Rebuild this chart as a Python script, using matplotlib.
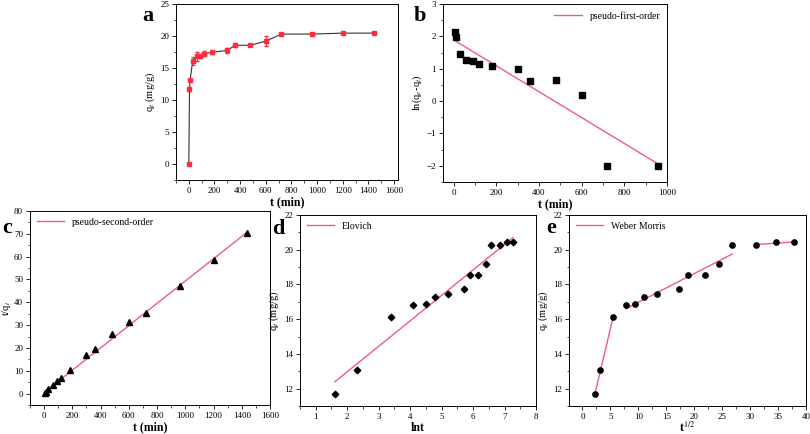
import numpy as np
import matplotlib
matplotlib.use("Agg")
import matplotlib.pyplot as plt
from matplotlib.ticker import MultipleLocator

plt.rcParams['font.family'] = ['Liberation Serif', 'DejaVu Serif']
plt.rcParams['mathtext.fontset'] = 'stix'

# data
t_min = [0, 5, 10, 30, 60, 90, 120, 180, 300, 360, 480, 600, 720, 960, 1200, 1440]
qt = [0, 11.7, 13.1, 16.1, 16.8, 16.9, 17.25, 17.45, 17.75, 18.55, 18.55, 19.2, 20.3, 20.3, 20.45, 20.45]
qt_err = [0, 0.3, 0.2, 0.6, 0.7, 0.3, 0.35, 0.2, 0.45, 0.2, 0.15, 0.75, 0.15, 0.1, 0.1, 0.1]

b_t = [5, 10, 30, 60, 90, 120, 180, 300, 360, 480, 600, 720, 960]
b_ln = [2.15, 1.98, 1.45, 1.28, 1.25, 1.15, 1.08, 0.98, 0.62, 0.64, 0.18, -2.0, -2.0]
b_fit_t = [10, 960]
b_fit_y = [1.85, -1.95]

c_t = [5, 10, 30, 60, 90, 120, 180, 300, 360, 480, 600, 720, 960, 1200, 1440]
c_tq = [0.43, 0.76, 1.86, 3.57, 5.3, 6.96, 10.3, 16.9, 19.4, 25.9, 31.25, 35.5, 47.3, 58.7, 70.4]
c_fit_t = [0, 1440]
c_fit_y = [0.5, 70.8]

d_lnt = [1.61, 2.30, 3.40, 4.09, 4.50, 4.79, 5.19, 5.70, 5.89, 6.17, 6.40, 6.58, 6.87, 7.09, 7.27]
d_q = [11.7, 13.1, 16.1, 16.8, 16.9, 17.25, 17.45, 17.75, 18.55, 18.55, 19.2, 20.3, 20.3, 20.45, 20.45]
d_fit_x = [1.61, 7.27]
d_fit_y = [12.4, 20.7]

e_sqrt = [2.24, 3.16, 5.48, 7.75, 9.49, 10.95, 13.42, 17.32, 18.97, 21.9, 24.5, 26.8, 31.0, 34.6, 37.9]
e_q = [11.7, 13.1, 16.1, 16.8, 16.9, 17.25, 17.45, 17.75, 18.55, 18.55, 19.2, 20.3, 20.3, 20.45, 20.45]
e_seg1_x = [2.24, 5.48]; e_seg1_y = [11.7, 16.1]
e_seg2_x = [7.75, 26.8]; e_seg2_y = [16.6, 19.75]
e_seg3_x = [31.0, 37.9]; e_seg3_y = [20.3, 20.45]

pink = '#f4588a'
W, H = 810, 434
fig = plt.figure(figsize=(W/100, H/100), dpi=100)

def add_ax(l, r, t, b):
    return fig.add_axes([l/W, 1-b/H, (r-l)/W, (b-t)/H])

def style(ax, xmaj, xmin, ymaj, ymin):
    ax.xaxis.set_major_locator(MultipleLocator(xmaj))
    ax.xaxis.set_minor_locator(MultipleLocator(xmin))
    ax.yaxis.set_major_locator(MultipleLocator(ymaj))
    ax.yaxis.set_minor_locator(MultipleLocator(ymin))
    ax.tick_params(which='major', direction='out', length=3, width=0.6, labelsize=6.5, pad=2)
    ax.tick_params(which='minor', direction='out', length=1.8, width=0.5)
    for s in ax.spines.values():
        s.set_linewidth(0.7)

lab_font = dict(fontsize=8.5, fontweight='bold')
let_font = dict(fontsize=16, fontweight='bold', va='center', ha='center')

# a
ax = add_ax(176, 398, 4, 180)
ax.plot(t_min, qt, color='#333333', lw=0.8, zorder=1)
ax.errorbar(t_min, qt, yerr=qt_err, fmt='s', color='#ff2a3a', ms=3.5, elinewidth=0.8, capsize=1.5, zorder=2)
ax.set_xlim(-100, 1630)
ax.set_ylim(-2.5, 25)
style(ax, 200, 100, 5, 2.5)
ax.set_xlabel('t (min)', **lab_font, labelpad=1)
ax.set_ylabel('q$_t$ (mg/g)', fontsize=7.5, labelpad=2)
fig.text(148/W, 1-16/H, 'a', **let_font)

# b
ax = add_ax(443, 667, 4, 182)
ax.plot(b_fit_t, b_fit_y, color=pink, lw=1.0, label='pseudo-first-order')
ax.plot(b_t, b_ln, 's', color='black', ms=3.8)
ax.set_xlim(-50, 1000)
ax.set_ylim(-2.5, 3)
style(ax, 200, 100, 1, 0.5)
ax.set_xlabel('t (min)', **lab_font, labelpad=1)
ax.set_ylabel('ln(q$_e$-q$_t$)', fontsize=7.5, labelpad=2)
ax.legend(loc='upper right', frameon=False, fontsize=7, handlelength=2.8, borderaxespad=0.3)
fig.text(420/W, 1-16/H, 'b', **let_font)

# c
ax = add_ax(30, 270, 211, 405)
ax.plot(c_fit_t, c_fit_y, color=pink, lw=1.0, label='pseudo-second-order')
ax.plot(c_t, c_tq, '^', color='black', ms=3.8)
ax.set_xlim(-100, 1600)
ax.set_ylim(-5, 80)
style(ax, 200, 100, 10, 5)
ax.set_xlabel('t (min)', **lab_font, labelpad=1)
ax.set_ylabel('t/q$_t$', fontsize=7.5, labelpad=1)
ax.legend(loc='upper left', frameon=False, fontsize=7, handlelength=2.8, borderaxespad=0.3)
fig.text(7/W, 1-228/H, 'c', **let_font)

# d
ax = add_ax(300, 536, 215, 406)
ax.plot(d_fit_x, d_fit_y, color=pink, lw=1.0, label='Elovich')
ax.plot(d_lnt, d_q, 'D', color='black', ms=3.3)
ax.set_xlim(0.5, 8)
ax.set_ylim(11, 22)
style(ax, 1, 0.5, 2, 1)
ax.set_xlabel('lnt', **lab_font, labelpad=1)
ax.set_ylabel('q$_t$ (mg/g)', fontsize=7.5, labelpad=2)
ax.legend(loc='upper left', frameon=False, fontsize=7, handlelength=2.8, borderaxespad=0.3)
fig.text(278/W, 1-229/H, 'd', **let_font)

# e
ax = add_ax(569, 806, 215, 406)
ax.plot(e_seg1_x, e_seg1_y, color=pink, lw=1.0, label='Weber Morris')
ax.plot(e_seg2_x, e_seg2_y, color=pink, lw=1.0)
ax.plot(e_seg3_x, e_seg3_y, color=pink, lw=1.0)
ax.plot(e_sqrt, e_q, 'o', color='black', ms=3.8)
ax.set_xlim(-2.4, 40)
ax.set_ylim(11, 22)
style(ax, 5, 2.5, 2, 1)
ax.set_xlabel('t$^{1/2}$', **lab_font, labelpad=0)
ax.set_ylabel('q$_t$ (mg/g)', fontsize=7.5, labelpad=2)
ax.legend(loc='upper left', frameon=False, fontsize=7, handlelength=2.8, borderaxespad=0.3)
fig.text(551/W, 1-228/H, 'e', **let_font)

fig.savefig('out.png', dpi=100)
